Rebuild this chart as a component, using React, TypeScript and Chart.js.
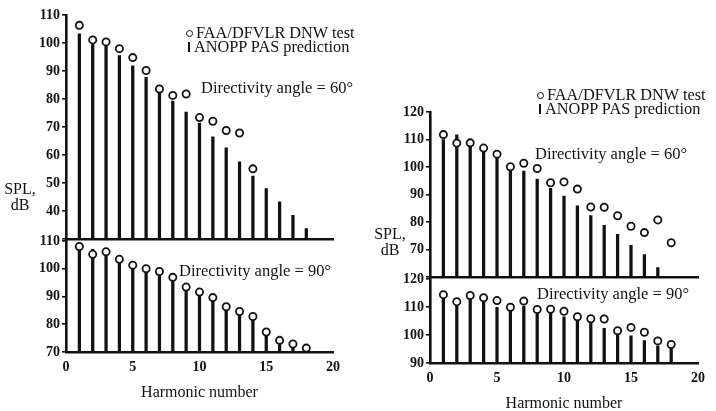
import React, { useEffect, useRef } from 'react';
import { Chart, registerables } from 'chart.js';

Chart.register(...registerables);

// ---------------- data ----------------
const harmonics = [1, 2, 3, 4, 5, 6, 7, 8, 9, 10, 11, 12, 13, 14, 15, 16, 17, 18];
const xTicks = [0, 5, 10, 15, 20];

// Left figure, directivity angle 60 deg
const leftTest60 = [106.3, 101.1, 100.4, 98.0, 94.8, 90.2, 83.6, 81.3, 81.8, 73.4, 72.1, 68.8, 67.9, 55.1];
const leftPred60 = [103.3, 100.3, 99.8, 95.5, 91.9, 87.8, 82.1, 79.3, 75.4, 71.4, 66.5, 62.6, 57.6, 52.5, 48.1, 43.3, 38.5, 33.8];
// Left figure, directivity angle 90 deg
const leftTest90 = [108.0, 105.2, 106.1, 103.4, 101.3, 100.0, 99.0, 96.9, 93.4, 91.6, 89.6, 86.3, 84.6, 82.8, 77.2, 74.2, 72.9, 71.4];
const leftPred90 = [107.5, 107.0, 105.6, 103.0, 100.8, 99.5, 98.5, 96.3, 93.0, 91.0, 89.0, 85.8, 84.0, 82.0, 76.8, 73.8, 72.5, 71.0];
// Right figure, directivity angle 60 deg
const rightTest60 = [111.8, 108.7, 108.8, 106.9, 104.7, 100.1, 101.4, 99.5, 94.3, 94.6, 92.0, 85.5, 85.4, 82.3, 78.5, 76.2, 80.8, 72.5];
const rightPred60 = [110.0, 111.7, 108.5, 105.8, 103.5, 99.4, 98.5, 95.6, 92.3, 89.5, 85.9, 82.4, 78.8, 75.6, 71.6, 68.2, 63.5];
// Right figure, directivity angle 90 deg
const rightTest90 = [114.4, 111.9, 114.1, 113.3, 112.3, 109.9, 112.1, 109.1, 109.2, 108.5, 106.5, 105.8, 105.7, 101.5, 102.7, 101.0, 97.9, 96.6];
const rightPred90 = [113.9, 111.4, 113.6, 112.8, 109.9, 109.4, 110.3, 108.6, 108.7, 106.5, 105.0, 104.8, 102.4, 100.5, 99.7, 98.0, 96.1, 95.6];

// ---------------- styling ----------------
const FONT = '"Liberation Serif", "DejaVu Serif", serif';
const INK = '#111';
const Y_AXIS_W = 44;
const PAD_T = 10;
const PAD_R = 14;

type PanelProps = {
  left: number; right: number; top: number; bottom: number;
  min: number; max: number; hideMinLabel: boolean;
  test: number[]; pred: number[];
  showX: boolean; canvasBottom?: number;
};

function Panel(p: PanelProps) {
  const ref = useRef<HTMLCanvasElement | null>(null);
  const xh = p.showX ? (p.canvasBottom as number) - p.bottom : 4;
  const w = p.right - p.left + Y_AXIS_W + PAD_R;
  const h = p.bottom - p.top + PAD_T + xh;

  useEffect(() => {
    if (!ref.current) return;
    const stems = p.pred.map((v, i) => ({ x: harmonics[i], y: [p.min, v] }));
    const circles = p.test.map((v, i) => ({ x: harmonics[i], y: v }));
    const chart = new Chart(ref.current, {
      type: 'bar',
      data: {
        datasets: [
          {
            type: 'scatter',
            label: 'FAA/DFVLR DNW test',
            data: circles,
            pointStyle: 'circle',
            pointRadius: 3.6,
            pointBackgroundColor: '#fff',
            pointBorderColor: INK,
            pointBorderWidth: 1.8,
            showLine: false,
            order: 0,
            clip: false,
          } as any,
          {
            type: 'bar',
            label: 'ANOPP PAS prediction',
            data: stems as any,
            backgroundColor: INK,
            borderWidth: 0,
            barThickness: 2.6,
            order: 1,
          } as any,
        ],
      },
      options: {
        animation: false,
        responsive: false,
        layout: { padding: { left: 0, right: PAD_R, top: PAD_T, bottom: 0 } },
        plugins: { legend: { display: false }, tooltip: { enabled: false } },
        scales: {
          x: {
            type: 'linear',
            position: 'bottom',
            min: 0,
            max: 20,
            offset: false,
            grid: { display: false, drawOnChartArea: false, drawTicks: false, offset: false },
            border: { display: true, color: INK, width: 2.6 },
            afterBuildTicks: (s: any) => { s.ticks = xTicks.map((v) => ({ value: v })); },
            ticks: {
              display: p.showX,
              autoSkip: false,
              maxRotation: 0,
              padding: 7,
              color: INK,
              font: { family: FONT, size: 14, weight: 'bold' },
            },
            title: {
              display: p.showX,
              text: 'Harmonic number',
              color: INK,
              font: { family: FONT, size: 16 },
              padding: { top: 0, bottom: 0 },
            },
            afterFit: (s: any) => { s.height = xh; s.paddingLeft = 0; s.paddingRight = 0; },
          },
          y: {
            type: 'linear',
            position: 'left',
            min: p.min,
            max: p.max,
            grid: { display: true, drawOnChartArea: false, drawTicks: true, tickLength: 4, color: INK, lineWidth: 1.6 },
            border: { display: true, color: INK, width: 2.6 },
            ticks: {
              stepSize: 10,
              autoSkip: false,
              padding: 2,
              color: INK,
              font: { family: FONT, size: 14, weight: 'bold' },
              callback: (v: any) => (p.hideMinLabel && v === p.min ? '' : String(v)),
            },
            afterFit: (s: any) => { s.width = Y_AXIS_W; s.paddingTop = 0; s.paddingBottom = 0; },
          },
        },
      } as any,
    });
    return () => chart.destroy();
  }, []);

  return (
    <canvas
      ref={ref}
      width={w}
      height={h}
      style={{ position: 'absolute', left: p.left - Y_AXIS_W, top: p.top - PAD_T, width: w, height: h }}
    />
  );
}

function Text(props: { x: number; y: number; text: string; size?: number }) {
  const size = props.size ?? 16.5;
  return (
    <div
      style={{
        position: 'absolute',
        left: props.x,
        top: props.y - 10,
        lineHeight: '20px',
        fontFamily: FONT,
        fontSize: size,
        color: INK,
        whiteSpace: 'nowrap',
      }}
    >
      {props.text}
    </div>
  );
}

function Legend(props: { x: number; y: number }) {
  return (
    <>
      <div
        style={{
          position: 'absolute', left: props.x, top: props.y - 3, width: 5, height: 5,
          border: `1.6px solid ${INK}`, borderRadius: '50%', background: '#fff',
        }}
      />
      <Text x={props.x + 10} y={props.y} text="FAA/DFVLR DNW test" size={16.3} />
      <div style={{ position: 'absolute', left: props.x + 2, top: props.y + 9, width: 2.4, height: 10, background: INK }} />
      <Text x={props.x + 8} y={props.y + 14} text="ANOPP PAS prediction" size={16.3} />
    </>
  );
}

function SplLabel(props: { x: number; y: number }) {
  return (
    <div
      style={{
        position: 'absolute', left: props.x, top: props.y - 8, width: 38, textAlign: 'center',
        fontFamily: FONT, fontSize: 16, lineHeight: '16px', color: INK,
      }}
    >
      SPL,<br />dB
    </div>
  );
}

export default function App() {
  return (
    <div
      style={{
        position: 'absolute', left: 0, top: 0, width: 716, height: 411, overflow: 'hidden',
        background: '#fff',
      }}
    >
      {/* Left figure */}
      <Panel left={66} right={333} top={15} bottom={241} min={30} max={110} hideMinLabel
        test={leftTest60} pred={leftPred60} showX={false} />
      <Panel left={66} right={333} top={241} bottom={352} min={70} max={110} hideMinLabel={false}
        test={leftTest90} pred={leftPred90} showX canvasBottom={402} />
      <Legend x={186} y={33} />
      <Text x={201} y={88} text="Directivity angle = 60°" />
      <Text x={179} y={271} text="Directivity angle = 90°" />
      <SplLabel x={1} y={189} />

      {/* Right figure */}
      <Panel left={430} right={698} top={112} bottom={279} min={60} max={120} hideMinLabel
        test={rightTest60} pred={rightPred60} showX={false} />
      <Panel left={430} right={698} top={279} bottom={363} min={90} max={120} hideMinLabel={false}
        test={rightTest90} pred={rightPred90} showX canvasBottom={413} />
      <Legend x={537} y={95} />
      <Text x={535} y={154} text="Directivity angle = 60°" />
      <Text x={537} y={294} text="Directivity angle = 90°" />
      <SplLabel x={371} y={234} />
    </div>
  );
}
